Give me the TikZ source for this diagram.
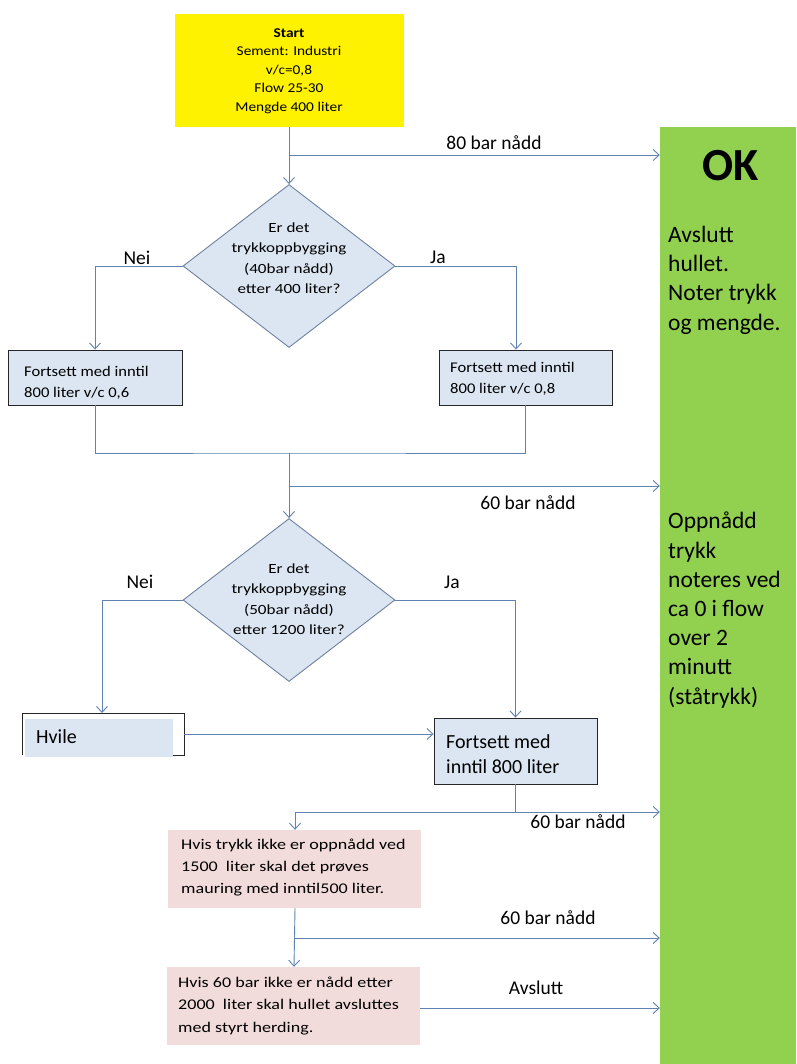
\documentclass[tikz,border=0pt]{standalone}
\usepackage{fontspec}
\setmainfont{Carlito}
\newfontfamily\widea[FakeStretch=1.14]{Carlito}
\newfontfamily\wideb[FakeStretch=1.22]{Carlito}
\newfontfamily\widec[FakeStretch=1.12]{Carlito}
\usetikzlibrary{shapes.geometric,arrows.meta,calc}
\definecolor{flow}{RGB}{95,130,175}
\definecolor{boxblue}{RGB}{220,230,242}
\definecolor{pinkbox}{RGB}{242,220,219}
\definecolor{okgreen}{RGB}{146,208,80}
\definecolor{dia}{RGB}{110,130,160}
\tikzset{
  x=1pt,y=-1pt,
  line/.style={draw=flow,line width=0.9pt},
  arr/.style={line,-{Straight Barb[length=6pt,width=11pt,line width=0.9pt]}},
  diam/.style={diamond,draw=dia,fill=boxblue,line width=0.9pt,inner sep=0pt,minimum width=212pt,minimum height=163pt,aspect=1.3},
  diatext/.style={align=center,font=\wideb\fontsize{14}{20.5}\selectfont,inner sep=0pt},
  bluebox/.style={draw=black!85,fill=boxblue,line width=0.9pt,inner sep=0pt},
  pink/.style={fill=pinkbox,inner sep=0pt,minimum width=253pt,minimum height=78pt},
  pinktxt/.style={align=left,anchor=west,inner sep=0pt,font=\wideb\fontsize{14.8}{22.3}\selectfont},
  boxtxt/.style={align=left,anchor=west,inner sep=0pt,font=\widec\fontsize{14.8}{21.5}\selectfont},
  lbl/.style={font=\fontsize{19.5}{22}\selectfont,inner sep=0pt},
  greentxt/.style={align=left,font=\fontsize{23.5}{29.2}\selectfont,inner sep=0pt,anchor=north west},
}
\begin{document}
\begin{tikzpicture}
\useasboundingbox (0,0) rectangle (796,1064);
\fill[white] (0,0) rectangle (796,1064);
% green panel
\node[fill=okgreen,minimum width=136pt,minimum height=937pt,inner sep=0pt] (ok) at (728,595.5) {};
\node[font=\fontsize{46}{48}\selectfont\bfseries,inner sep=0pt] (oktitle) at (731,166) {OK};
\node[greentxt] (oktxt1) at (668,226) {Avslutt\\hullet.\\Noter trykk\\og mengde.};
\node[greentxt] (oktxt2) at (668,512) {Oppnådd\\trykk\\noteres ved\\ca 0 i flow\\over 2\\minutt\\(ståtrykk)};
% start
\node[fill=yellow,minimum width=229pt,minimum height=113pt,inner sep=0pt] (start) at (289,70.5) {};
\node[align=center,inner sep=0pt,font=\widea\fontsize{13.5}{18.5}\selectfont] (startt) at (289,71) 
  {{\bfseries Start}\\Sement: Industri\\v/c=0,8\\Flow 25-30\\Mengde 400 liter};
% diamond 1
\node[diam] (d1) at (289,266) {};
\node[diatext] (d1t) at (289,258) {Er det\\trykkoppbygging\\(40bar nådd)\\etter 400 liter?};
% boxes row 1
\node[bluebox,minimum width=174pt,minimum height=55pt] (l1) at (95,377.5) {};
\node[boxtxt] (l1t) at (24,383) {Fortsett med inntil\\800 liter v/c 0,6};
\node[bluebox,minimum width=173pt,minimum height=55pt] (r1) at (525.5,377.5) {};
\node[boxtxt] (r1t) at (450,379) {Fortsett med inntil\\800 liter v/c 0,8};
% diamond 2
\node[diam] (d2) at (289,600) {};
\node[diatext] (d2t) at (289,599) {Er det\\trykkoppbygging\\(50bar nådd)\\etter 1200 liter?};
% Hvile
\node[fill=boxblue,minimum width=148pt,minimum height=38pt,inner sep=0pt] (hv) at (99,737.5) {};
\draw[black!85,line width=0.9pt] (22,755) -- (22,713) -- (184,713) -- (184,755) -- (173,755);
\coordinate (hvr) at (184,734);
\coordinate (hvt) at (102,713);
\node[anchor=west,inner sep=0pt,font=\fontsize{20}{22}\selectfont] (hvt2) at (36,737) {Hvile};
% box 3
\node[bluebox,minimum width=163pt,minimum height=66pt] (b3) at (515.5,751) {};
\node[align=left,anchor=west,inner sep=0pt,font=\fontsize{20}{25}\selectfont] (b3t) at (446,754.5) {Fortsett med\\inntil 800 liter};
% pink boxes
\node[pink] (p1) at (294,869) {};
\node[pinktxt] (p1t) at (181,867.5) {Hvis trykk ikke er oppnådd ved\\1500 \ liter skal det prøves\\mauring med inntil500 liter.};
\node[pink] (p2) at (293,1006) {};
\node[pinktxt] (p2t) at (178,1006) {Hvis 60 bar ikke er nådd etter\\2000 \ liter skal hullet avsluttes\\med styrt herding.};
% connectors
\coordinate (b1) at (289,155);
\draw[arr] (start.south) -- (d1.north);
\draw[arr] (b1) -- (b1 -| ok.west);
\draw[arr] (d1.west) -| (l1.north);
\draw[arr] (d1.east) -| ($(r1.north)+(-9.5,0)$);
\coordinate (m1) at (289,453);
\draw[line] (l1.south) |- (m1) -| (r1.south);
\draw[arr] (m1) -- (d2.north);
\coordinate (b2) at (289,486);
\draw[arr] (b2) -- (b2 -| ok.west);
\draw[arr] (d2.west) -| (hvt);
\draw[arr] (d2.east) -| (b3.north);
\draw[arr] (hvr) -- (hvr -| b3.west);
\coordinate (j3) at (515.5,812);
\draw[line] (b3.south) -- (j3);
\draw[arr] (j3) -| ($(p1.north)+(1,0)$);
\draw[arr] (j3) -- (j3 -| ok.west);
\draw[arr] ($(p1.south)+(1,0)$) -- ($(p2.north)+(1,0)$);
\coordinate (b4) at (295,938);
\draw[arr] (b4) -- (b4 -| ok.west);
\draw[arr] ($(p2.east)+(0,2)$) -- ($(p2.east -| ok.west)+(0,2)$);
% labels
\node[lbl] (t80) at (494,143) {80 bar nådd};
\node[lbl] (n1) at (137,258) {Nei};
\node[lbl] (j1) at (438,257) {Ja};
\node[lbl] (t60a) at (528,503) {60 bar nådd};
\node[lbl] (n2) at (140,582) {Nei};
\node[lbl] (j2) at (452,582) {Ja};
\node[lbl] (t60b) at (578,822) {60 bar nådd};
\node[lbl] (t60c) at (548,918) {60 bar nådd};
\node[lbl] (tav) at (536,988) {Avslutt};
\end{tikzpicture}
\end{document}
